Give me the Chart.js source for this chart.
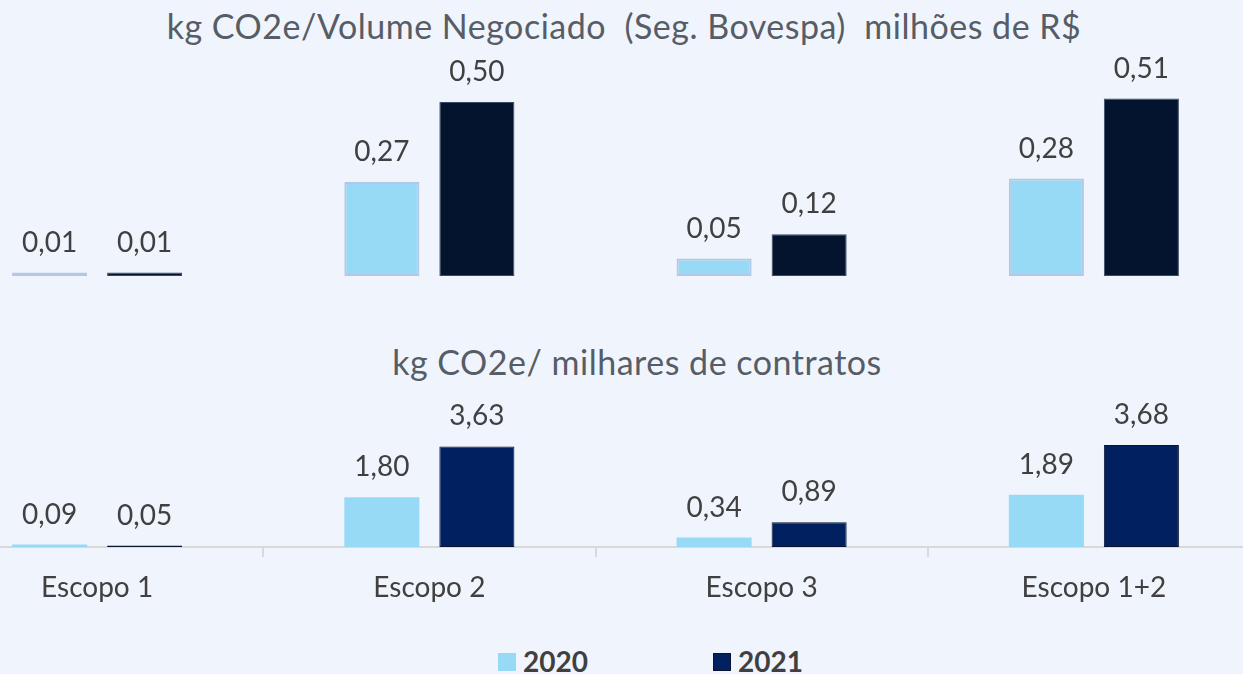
<!DOCTYPE html>
<html>
<head>
<meta charset="utf-8">
<script src="https://cdn.jsdelivr.net/npm/chart.js@4/dist/chart.umd.min.js"></script>
<style>
    html, body { margin: 0; padding: 0; width: 1243px; height: 674px; overflow: hidden; background: #f0f5fd; font-family: Lato, sans-serif; }
    .title { position: absolute; font-size: 34px; line-height: 34px; letter-spacing: 0.5px; color: #575d66; white-space: nowrap; transform: translateX(-50%); }
    #title1 { left: 624px; top: 9px; }
    #title2 { left: 637px; top: 345px; }
    .box { position: absolute; left: -69px; width: 1329px; }
    #box1 { top: 36px; height: 240px; }
    #box2 { top: 395px; height: 212px; }
    .legend-item { position: absolute; top: 647px; font-weight: bold; font-size: 28px; line-height: 28px; color: #404040; white-space: nowrap; }
    .legend-item i { position: absolute; left: -25px; top: 6px; width: 18px; height: 18px; box-sizing: border-box; }
</style>
</head>
<body>
<div class="title" id="title1">kg CO2e/Volume Negociado&nbsp; (Seg. Bovespa)&nbsp; milhões de R$</div>
<div class="title" id="title2">kg CO2e/ milhares de contratos</div>
<div class="box" id="box1"><canvas id="volumeChart"></canvas></div>
<div class="box" id="box2"><canvas id="contratosChart"></canvas></div>
<div id="legend"></div>
<script>
(function() {
    'use strict';

    const categories = ['Escopo 1', 'Escopo 2', 'Escopo 3', 'Escopo 1+2'];
    const years = ['2020', '2021'];
    const volume2020 = [0.01, 0.27, 0.05, 0.28];
    const volume2021 = [0.01, 0.50, 0.12, 0.51];
    const contratos2020 = [0.09, 1.80, 0.34, 1.89];
    const contratos2021 = [0.05, 3.63, 0.89, 3.68];

    const lightBlue = '#97daf6';
    const darkTop = '#04142e';
    const darkBottom = '#002060';

    function fmt(v) {
        return v.toFixed(2).replace('.', ',');
    }

    // value labels above each bar
    const valueLabels = {
        id: 'valueLabels',
        afterDatasetsDraw(chart) {
            const ctx = chart.ctx;
            ctx.save();
            ctx.font = '28px Lato';
            ctx.fillStyle = '#404040';
            ctx.textAlign = 'center';
            ctx.textBaseline = 'alphabetic';
            chart.data.datasets.forEach(function(ds, i) {
                chart.getDatasetMeta(i).data.forEach(function(bar, j) {
                    ctx.fillText(fmt(ds.data[j]), bar.x, bar.y - 21);
                });
            });
            ctx.restore();
        }
    };

    const barOpts = {
        categoryPercentage: 0.572,
        barPercentage: 0.79
    };

    new Chart(document.getElementById('volumeChart'), {
        type: 'bar',
        data: {
            labels: categories,
            datasets: [
                Object.assign({ label: years[0], data: volume2020, backgroundColor: lightBlue, borderColor: '#b4c7e7', borderWidth: 2, borderSkipped: false }, barOpts),
                Object.assign({ label: years[1], data: volume2021, backgroundColor: darkTop, borderColor: '#3a4a66', borderWidth: 1, borderSkipped: false }, barOpts)
            ]
        },
        options: {
            responsive: true,
            maintainAspectRatio: false,
            animation: false,
            layout: { padding: 0 },
            plugins: { legend: { display: false }, tooltip: { enabled: false } },
            scales: {
                x: { display: false },
                y: { display: false, min: 0, max: 0.69 }
            }
        },
        plugins: [valueLabels]
    });

    new Chart(document.getElementById('contratosChart'), {
        type: 'bar',
        data: {
            labels: categories,
            datasets: [
                Object.assign({ label: years[0], data: contratos2020, backgroundColor: lightBlue, borderWidth: 0 }, barOpts),
                Object.assign({ label: years[1], data: contratos2021, backgroundColor: darkBottom, borderColor: '#0a1630', borderWidth: 1, borderSkipped: false }, barOpts)
            ]
        },
        options: {
            responsive: true,
            maintainAspectRatio: false,
            animation: false,
            layout: { padding: 0 },
            plugins: { legend: { display: false }, tooltip: { enabled: false } },
            scales: {
                x: {
                    grid: { display: true, drawOnChartArea: false, drawTicks: true, tickLength: 10, color: '#d9d9d9', lineWidth: 2, offset: true },
                    border: { display: true, color: '#d9d9d9', width: 2 },
                    ticks: { color: '#404040', font: { family: 'Lato', size: 28 }, padding: 14, maxRotation: 0 },
                    afterFit: function(s) { s.height = 60; }
                },
                y: { display: false, min: 0, max: 5.49 }
            }
        },
        plugins: [valueLabels]
    });

    // legend
    const legend = document.getElementById('legend');
    const legendItems = [
        { text: years[0], color: lightBlue, border: lightBlue, left: 523 },
        { text: years[1], color: darkBottom, border: '#0a1630', left: 738 }
    ];
    legendItems.forEach(function(it) {
        const el = document.createElement('div');
        el.className = 'legend-item';
        el.style.left = it.left + 'px';
        el.textContent = it.text;
        const sw = document.createElement('i');
        sw.style.background = it.color;
        sw.style.border = '1px solid ' + it.border;
        el.appendChild(sw);
        legend.appendChild(el);
    });
})();
</script>
</body>
</html>
